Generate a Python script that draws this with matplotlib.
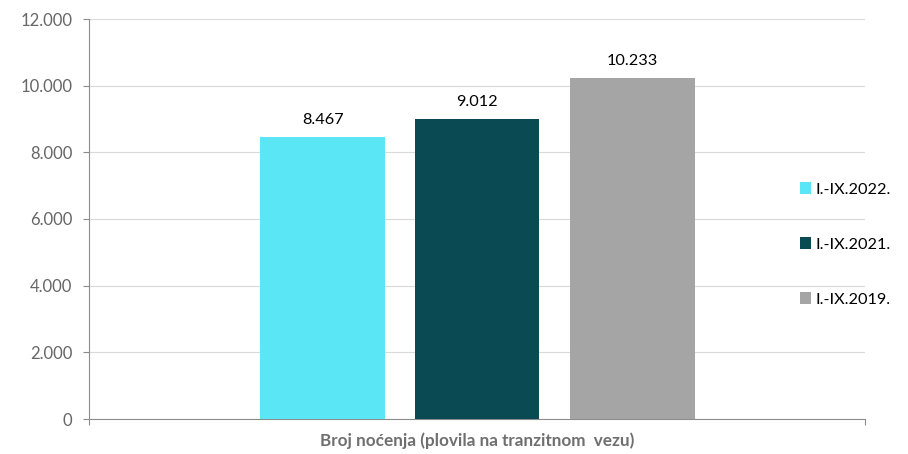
import matplotlib
matplotlib.use("Agg")
import matplotlib.pyplot as plt
from matplotlib.patches import Patch
from matplotlib.ticker import FuncFormatter

category = "Broj noćenja (plovila na tranzitnom  vezu)"
series = ["I.-IX.2022.", "I.-IX.2021.", "I.-IX.2019."]
values = [8467, 9012, 10233]
colors = ["#5ae6f5", "#0a4b53", "#a5a5a5"]
y_ticks = [0, 2000, 4000, 6000, 8000, 10000, 12000]

plt.rcParams["font.family"] = ["Lato", "DejaVu Sans"]

fig = plt.figure(figsize=(9.08, 4.54), dpi=100)
ax = fig.add_axes([89 / 908, 1 - 419 / 454, 776 / 908, 400 / 454])

offsets = [-0.199, 0.0, 0.2]
bar_w = 0.161
for off, val, col in zip(offsets, values, colors):
    ax.bar(off, val, width=bar_w, color=col, zorder=3)
    ax.text(off, val + 300, f"{val:,}".replace(",", "."), ha="center", va="bottom",
            fontsize=11.7, color="#000000", zorder=4)

ax.set_xlim(-0.5, 0.5)
ax.set_ylim(0, 12000)
ax.set_yticks(y_ticks)
ax.yaxis.set_major_formatter(FuncFormatter(lambda v, p: f"{int(v):,}".replace(",", ".")))
ax.tick_params(axis="y", colors="#8c8c8c", labelcolor="#666666", labelsize=12,
               length=4, width=0.8, pad=8)
ax.set_xticks([-0.5, 0.5])
ax.set_xticklabels(["", ""])
ax.tick_params(axis="x", colors="#8c8c8c", length=4, width=0.8)
ax.grid(axis="y", color="#d9d9d9", linewidth=0.8, zorder=0)

for side in ("top", "right"):
    ax.spines[side].set_visible(False)
for side in ("left", "bottom"):
    ax.spines[side].set_color("#8c8c8c")
    ax.spines[side].set_linewidth(0.8)

fig.text(0.5 * (89 + 865) / 908, 1 - 441 / 454, category, ha="center", va="center",
         fontsize=12.3, fontweight="bold", color="#6f6f6f")

handles = [Patch(facecolor=c, edgecolor="none") for c in colors]
leg = fig.legend(handles, series, loc="center left", bbox_to_anchor=(793.5 / 908, 1 - 244.5 / 454),
                 frameon=False, fontsize=11.7, handlelength=0.7, handleheight=0.7,
                 handletextpad=0.25, labelspacing=2.5, borderaxespad=0)
for t in leg.get_texts():
    t.set_color("#000000")

fig.savefig("out.png", dpi=100, facecolor="white")
